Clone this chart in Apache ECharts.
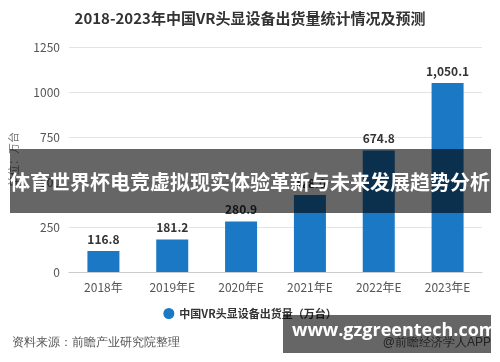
<!DOCTYPE html>
<html><head><meta charset="utf-8">
<script src="https://cdn.jsdelivr.net/npm/echarts@6/dist/echarts.min.js"></script>
<style>html,body{margin:0;padding:0;background:#fff;}#c{width:500px;height:362px;}</style>
</head><body><div id="c"></div>
<script>
var titleText = '2018-2023年中国VR头显设备出货量统计情况及预测';
var categories = ['2018年', '2019年E', '2020年E', '2021年E', '2022年E', '2023年E'];
var shipments = [116.8, 181.2, 280.9, 428.0, 674.8, 1050.1];
var yTicks = [0, 250, 500, 750, 1000, 1250];
var seriesName = '中国VR头显设备出货量（万台）';
var unitName = '单位：万台';
var sourceText = '资料来源：前瞻产业研究院整理';
var creditText = '@前瞻经济学人APP';
var bannerText = '体育世界杯电竞虚拟现实体验革新与未来发展趋势分析';
var siteText = 'www.gzgreentech.com';

var font = '"Noto Sans CJK SC", "Noto Sans", sans-serif';
var chart = echarts.init(document.getElementById('c'), null, {renderer: 'canvas'});
chart.setOption({
  animation: false,
  textStyle: {fontFamily: font},
  title: {
    text: titleText, left: 'center', top: 6,
    textStyle: {fontSize: 15, fontWeight: 'bold', color: '#333', fontFamily: font}
  },
  grid: {left: 66, right: 18, top: 47, bottom: 90},
  legend: {
    bottom: 38, left: 'center', icon: 'circle', itemWidth: 11, itemHeight: 11,
    textStyle: {fontSize: 11, fontWeight: 'bold', color: '#333'},
    data: [seriesName]
  },
  xAxis: {
    type: 'category', data: categories,
    axisLine: {lineStyle: {color: '#ccc'}},
    axisTick: {show: false},
    axisLabel: {fontSize: 12, color: '#555', margin: 9}
  },
  yAxis: {
    type: 'value', min: yTicks[0], max: yTicks[yTicks.length - 1], interval: 250,
    name: unitName, nameLocation: 'middle', nameRotate: 90, nameGap: 50,
    nameTextStyle: {fontSize: 11, color: '#777'},
    axisLine: {show: false}, axisTick: {show: false},
    axisLabel: {fontSize: 12, color: '#555', margin: 9, formatter: function (v) { return String(v); }},
    splitLine: {lineStyle: {color: '#e3e3e3'}}
  },
  series: [{
    name: seriesName, type: 'bar', data: shipments, barWidth: 32,
    itemStyle: {color: '#1a78c4'},
    label: {
      show: true, position: 'top', distance: 6,
      fontSize: 12, fontWeight: 'bold', color: '#333',
      formatter: function (p) {
        return p.value.toLocaleString('en-US', {minimumFractionDigits: 1, maximumFractionDigits: 1});
      }
    }
  }],
  graphic: [
    {type: 'text', left: 12, top: 337, z: 50,
     style: {text: sourceText, fontSize: 12, fill: '#555', font: '12px ' + font}},
    {type: 'text', right: 9, top: 337, z: 50,
     style: {text: creditText, fontSize: 12, fill: '#555', font: '12px ' + font}},
    {type: 'rect', left: 10, top: 149, z: 100,
     shape: {width: 481, height: 64}, style: {fill: 'rgba(0,0,0,0.6)'}},
    {type: 'text', left: 'center', top: 172, z: 101,
     style: {text: bannerText, fill: '#fff', font: 'bold 20px ' + font}},
    {type: 'rect', left: 283, top: 315, z: 100,
     shape: {width: 208, height: 38}, style: {fill: 'rgba(0,0,0,0.6)'}},
    {type: 'text', left: 292, top: 322, z: 101,
     style: {text: siteText, fill: '#fff', font: 'bold 18px "Open Sans", "DejaVu Sans", sans-serif'}}
  ]
});
</script></body></html>
